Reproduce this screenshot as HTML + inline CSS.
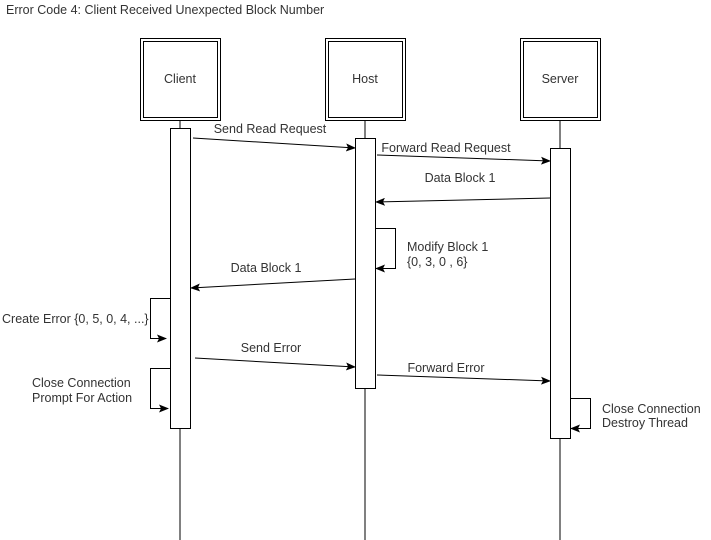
<!DOCTYPE html>
<html><head><style>html,body{margin:0;padding:0;background:#fff}svg{display:block}text{font-family:"Liberation Sans",sans-serif;font-size:12.5px;fill:#333}</style></head>
<body>
<svg width="711" height="540" viewBox="0 0 711 540">
<defs><marker id="a" markerWidth="10" markerHeight="8" refX="9" refY="4" orient="auto" markerUnits="userSpaceOnUse"><path d="M0,0 L10,4 L0,8 L2,4 Z" fill="#000"/></marker></defs>
<text x="6" y="14">Error Code 4: Client Received Unexpected Block Number</text>
<g stroke="#000" fill="none">
<line x1="180" y1="120" x2="180" y2="540"/>
<line x1="365" y1="120" x2="365" y2="540"/>
<line x1="560" y1="120" x2="560" y2="540"/>
<rect x="140.5" y="38.5" width="80" height="82" fill="#fff"/><rect x="143.5" y="41.5" width="74" height="76"/>
<rect x="325.5" y="38.5" width="80" height="82" fill="#fff"/><rect x="328.5" y="41.5" width="74" height="76"/>
<rect x="520.5" y="38.5" width="80" height="82" fill="#fff"/><rect x="523.5" y="41.5" width="74" height="76"/>
<rect x="170.5" y="128.5" width="20" height="300" fill="#fff"/>
<rect x="355.5" y="138.5" width="20" height="250" fill="#fff"/>
<rect x="550.5" y="148.5" width="20" height="290" fill="#fff"/>
<line x1="193" y1="138" x2="355" y2="148" marker-end="url(#a)"/>
<line x1="377" y1="155" x2="550" y2="161" marker-end="url(#a)"/>
<line x1="550" y1="198" x2="376" y2="202" marker-end="url(#a)"/>
<path d="M375.5 228.5 H395.5 V268.5 H376" marker-end="url(#a)"/>
<line x1="355" y1="279" x2="191" y2="288" marker-end="url(#a)"/>
<path d="M170.5 298.5 H150.5 V338.5 H166" marker-end="url(#a)"/>
<line x1="195" y1="358" x2="355" y2="367" marker-end="url(#a)"/>
<path d="M170.5 368.5 H150.5 V408.5 H168" marker-end="url(#a)"/>
<line x1="377" y1="375" x2="550" y2="381" marker-end="url(#a)"/>
<path d="M570.5 398.5 H590.5 V428.5 H571" marker-end="url(#a)"/>
</g>
<text x="180" y="83" text-anchor="middle">Client</text>
<text x="365" y="83" text-anchor="middle">Host</text>
<text x="560" y="83" text-anchor="middle">Server</text>
<text x="270" y="133" text-anchor="middle">Send Read Request</text>
<text x="446" y="152" text-anchor="middle">Forward Read Request</text>
<text x="460" y="182" text-anchor="middle">Data Block 1</text>
<text x="407" y="251">Modify Block 1</text>
<text x="407" y="266">{0, 3, 0 , 6}</text>
<text x="266" y="272" text-anchor="middle">Data Block 1</text>
<text x="2" y="323">Create Error {0, 5, 0, 4, ...}</text>
<text x="32" y="387">Close Connection</text>
<text x="32" y="402">Prompt For Action</text>
<text x="271" y="352" text-anchor="middle">Send Error</text>
<text x="446" y="372" text-anchor="middle">Forward Error</text>
<text x="602" y="413">Close Connection</text>
<text x="602" y="427">Destroy Thread</text>
</svg>
</body></html>
